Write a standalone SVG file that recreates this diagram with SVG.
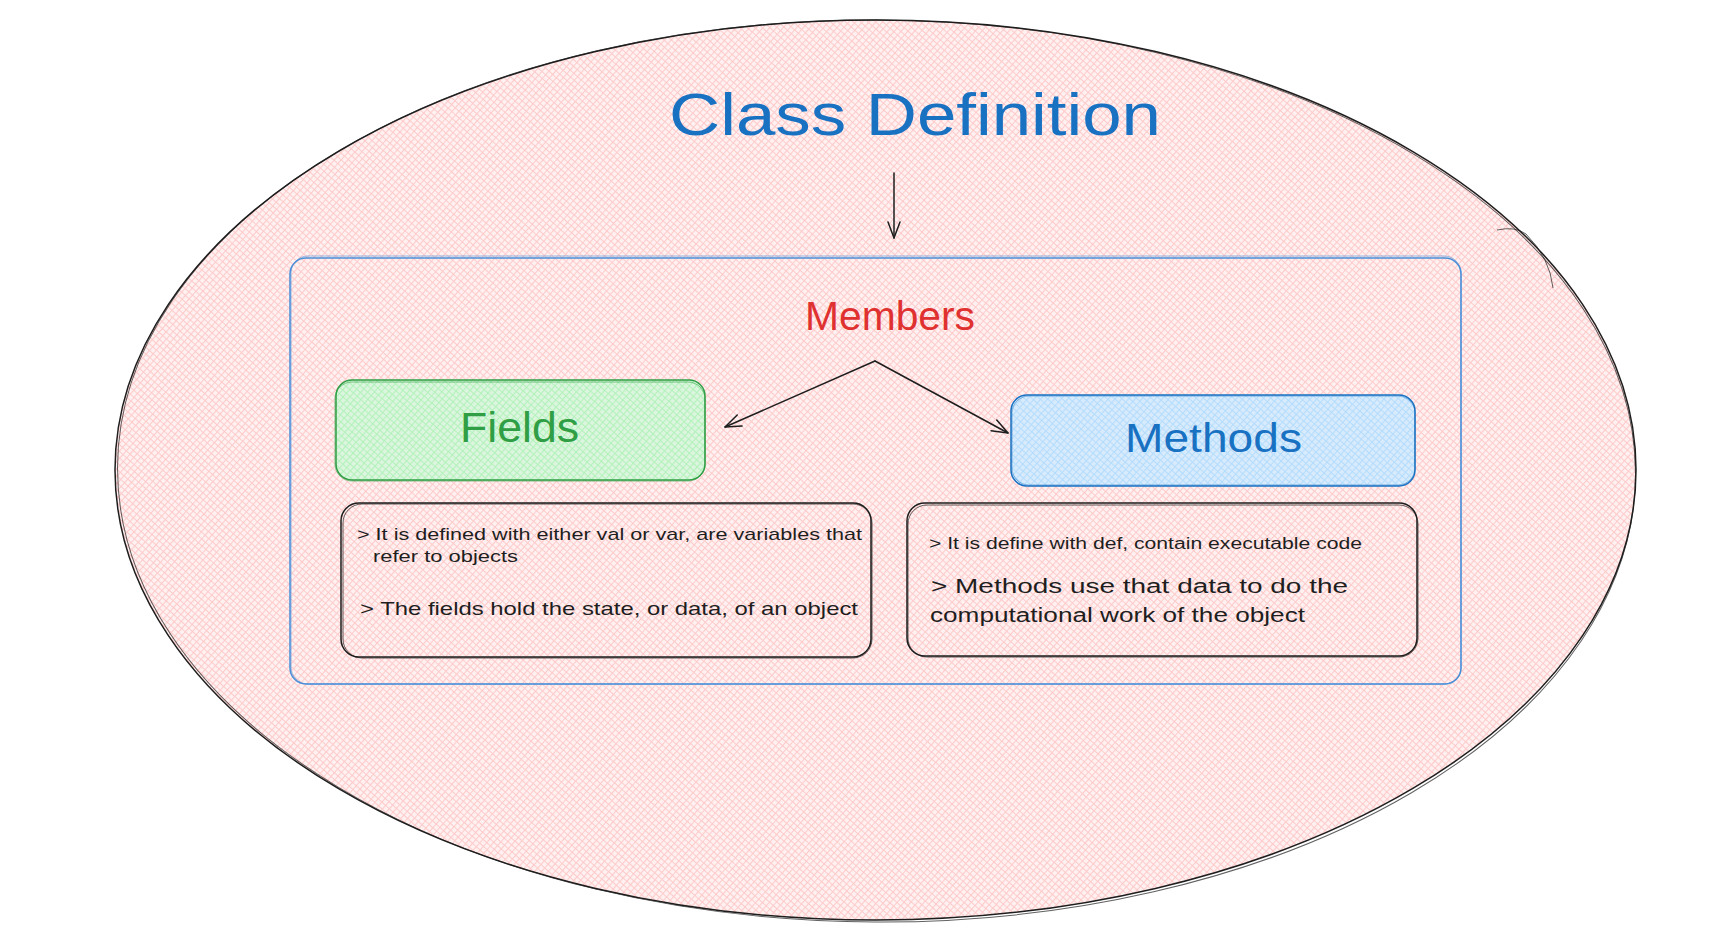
<svg xmlns="http://www.w3.org/2000/svg" width="1726" height="950" viewBox="0 0 1726 950">
  <defs>
    <pattern id="hPink" width="5" height="5" patternUnits="userSpaceOnUse" patternTransform="rotate(42)">
      <rect width="5" height="5" fill="#fff1f1"/>
      <path d="M0,0.5H5M0.5,0V5" stroke="#ffcaca" stroke-width="1.1"/>
    </pattern>
    <pattern id="hGreen" width="5" height="5" patternUnits="userSpaceOnUse" patternTransform="rotate(42)">
      <rect width="5" height="5" fill="#dcf5de"/>
      <path d="M0,0.5H5M0.5,0V5" stroke="#b2f2bb" stroke-width="1.1"/>
    </pattern>
    <pattern id="hBlue" width="5" height="5" patternUnits="userSpaceOnUse" patternTransform="rotate(42)">
      <rect width="5" height="5" fill="#d8ebfc"/>
      <path d="M0,0.5H5M0.5,0V5" stroke="#b4dcfd" stroke-width="1.1"/>
    </pattern>
    <marker id="arr" viewBox="0 0 20 20" refX="18" refY="10" markerWidth="20" markerHeight="20" markerUnits="userSpaceOnUse" orient="auto">
      <path d="M2,4 L18,10 L2,16" fill="none" stroke="#1e1e1e" stroke-width="1.5" stroke-linecap="round" stroke-linejoin="round"/>
    </marker>
  </defs>
  <style>
    .hand { font-family: "Liberation Sans", "DejaVu Sans", sans-serif; }
    .ink { fill: none; stroke: #1e1e1e; stroke-width: 1.5; stroke-linecap: round; }
    .ink2 { fill: none; stroke: #1e1e1e; stroke-width: 1; stroke-opacity: 0.7; }
    .desc { font-family: "Liberation Sans", "DejaVu Sans", sans-serif; fill: #1e1e1e; }
    .conn { fill: none; stroke: #1e1e1e; stroke-width: 1.5; stroke-linecap: round; }
  </style>
  <rect width="1726" height="950" fill="#ffffff"/>

  <g id="class-definition">
    <ellipse cx="875.5" cy="470" rx="760.5" ry="450" fill="url(#hPink)" stroke="#1e1e1e" stroke-width="1.5"/>
    <ellipse cx="876.5" cy="471" rx="759" ry="451" class="ink2" transform="rotate(0.3 876 471)"/>
    <path d="M1497,230 Q1515,226 1526,234 Q1550,258 1553,288" class="ink2"/>
    <text class="hand" x="669" y="135" font-size="60" fill="#1971c2" textLength="492" lengthAdjust="spacingAndGlyphs">Class Definition</text>
  </g>

  <g id="members">
    <rect x="290" y="258" width="1171" height="426" rx="16" fill="none" stroke="#4a8fd8" stroke-width="1.5"/>
    <rect x="291" y="256" width="1170" height="428" rx="17" fill="none" stroke="#4a8fd8" stroke-width="1" stroke-opacity="0.6"/>
    <text class="hand" x="805" y="330" font-size="40" fill="#e03131" textLength="170" lengthAdjust="spacingAndGlyphs">Members</text>
  </g>

  <g id="fields">
    <rect x="336" y="380" width="369" height="100" rx="16" fill="url(#hGreen)" stroke="#2f9e44" stroke-width="1.5"/>
    <rect x="335" y="382" width="370" height="99" rx="17" fill="none" stroke="#2f9e44" stroke-width="1" stroke-opacity="0.6"/>
    <text class="hand" x="460" y="442" font-size="42" fill="#2f9e44" textLength="119" lengthAdjust="spacingAndGlyphs">Fields</text>
  </g>

  <g id="methods">
    <rect x="1011" y="395" width="404" height="91" rx="16" fill="url(#hBlue)" stroke="#1971c2" stroke-width="1.5"/>
    <rect x="1012" y="396" width="403" height="89" rx="17" fill="none" stroke="#1971c2" stroke-width="1" stroke-opacity="0.5"/>
    <text class="hand" x="1125" y="452" font-size="40" fill="#1971c2" textLength="177" lengthAdjust="spacingAndGlyphs">Methods</text>
  </g>

  <g id="fields-description">
    <rect x="341" y="503" width="530" height="154" rx="18" class="ink"/>
    <rect x="343" y="504" width="529" height="154" rx="19" class="ink2"/>
    <text class="desc" x="357" y="540" font-size="17" textLength="505" lengthAdjust="spacingAndGlyphs">&gt; It is defined with either val or var, are variables that</text>
    <text class="desc" x="373" y="562" font-size="17" textLength="145" lengthAdjust="spacingAndGlyphs">refer to objects</text>
    <text class="desc" x="360" y="615" font-size="19" textLength="498" lengthAdjust="spacingAndGlyphs">&gt; The fields hold the state, or data, of an object</text>
  </g>

  <g id="methods-description">
    <rect x="907" y="503" width="510" height="153" rx="18" class="ink"/>
    <rect x="908" y="505" width="510" height="152" rx="19" class="ink2"/>
    <text class="desc" x="929" y="549" font-size="16" textLength="433" lengthAdjust="spacingAndGlyphs">&gt; It is define with def, contain executable code</text>
    <text class="desc" x="931" y="593" font-size="20" textLength="417" lengthAdjust="spacingAndGlyphs">&gt; Methods use that data to do the</text>
    <text class="desc" x="930" y="622" font-size="20" textLength="375" lengthAdjust="spacingAndGlyphs">computational work of the object</text>
  </g>

  <g id="connectors">
    <path d="M894,173 L894,238" class="conn" marker-end="url(#arr)"/>
    <path d="M875,361 L725,427" class="conn" marker-end="url(#arr)"/>
    <path d="M875,361 L1008,433" class="conn" marker-end="url(#arr)"/>
  </g>
</svg>
